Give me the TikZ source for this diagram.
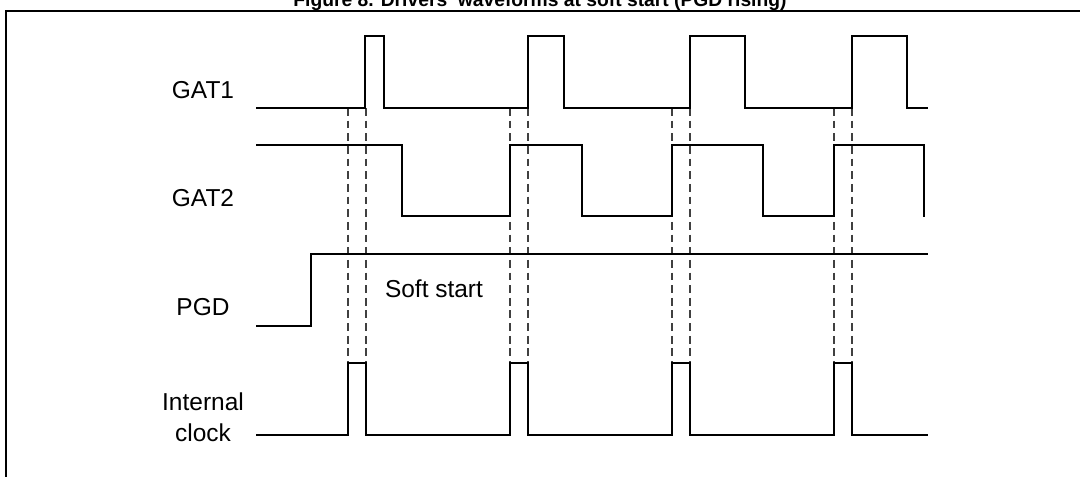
\documentclass[tikz,border=0pt]{standalone}
\usepackage{fontspec}
\setmainfont{Liberation Sans}
\usetikzlibrary{positioning}

\begin{document}
\begin{tikzpicture}[x=0.025cm, y=-0.025cm,
    wave/.style={line width=1.5pt, line cap=rect},
    guide/.style={line width=0.9pt, black!75, dash pattern=on 5.5pt off 3.5pt},
    sig/.style={font=\fontsize{17.4}{22}\selectfont, inner sep=0pt, align=center}]

\useasboundingbox (0,0) rectangle (1080,477);

% frame and title
\draw[line width=1.4pt] (6,477) -- (6,11) -- (1080,11);
\node[font=\bfseries\fontsize{13.7}{15}\selectfont, anchor=base] (title) at (540,7)
    {Figure 8. Drivers' waveforms at soft start (PGD rising)};

% signal names
\node[sig] (gat1) at (203,90) {GAT1};
\node[sig] (gat2) at (203,198) {GAT2};
\node[sig] (pgd) at (203,307) {PGD};
\node[sig] (clk) at (203,417) {Internal\\clock};
\node[sig] (soft) at (434,289) {Soft start};

% dead time guides
\foreach \a in {348,510,672,834} {
    \draw[guide] (\a,108) -- (\a,363);
    \draw[guide] (\a+18,108) -- (\a+18,363);
}

% GAT1
\draw[wave] (257,108)
    \foreach \a/\b in {365/384,528/564,690/745,852/907}
        { -- (\a,108) -- (\a,36) -- (\b,36) -- (\b,108) }
    -- (927,108);

% GAT2
\draw[wave] (257,145) -- (402,145) -- (402,216)
    \foreach \a/\b in {510/582,672/763,834/924}
        { -- (\a,216) -- (\a,145) -- (\b,145) -- (\b,216) };

% PGD
\draw[wave] (257,326) -- (311,326) -- (311,254) -- (927,254);

% internal clock
\draw[wave] (257,435)
    \foreach \a in {348,510,672,834}
        { -- (\a,435) -- (\a,363) -- (\a+18,363) -- (\a+18,435) }
    -- (927,435);

\end{tikzpicture}
\end{document}
